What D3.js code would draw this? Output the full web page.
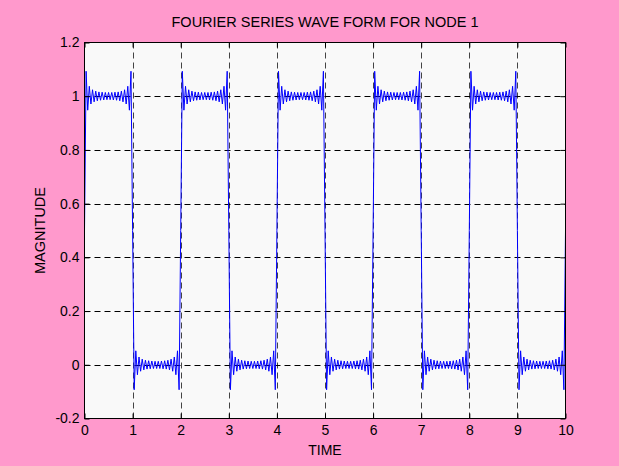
<!DOCTYPE html>
<html>
<head>
<meta charset="utf-8">
<script src="https://cdn.jsdelivr.net/npm/d3@7"></script>
<style>
  html, body { margin: 0; padding: 0; background: #FF99CC; }
  svg { display: block; }
  text { font-family: "Liberation Sans", Arial, sans-serif; fill: #000; }
</style>
</head>
<body>
<svg id="chart" width="619" height="466"></svg>
<script>
// ---- data ----
const titleText = "FOURIER SERIES WAVE FORM FOR NODE 1";
const xLabel = "TIME";
const yLabel = "MAGNITUDE";
const xTicks = [0, 1, 2, 3, 4, 5, 6, 7, 8, 9, 10];
const yTicks = [-0.2, 0, 0.2, 0.4, 0.6, 0.8, 1, 1.2];
const yTickLabels = ["-0.2", "0", "0.2", "0.4", "0.6", "0.8", "1", "1.2"];
const timeStep = 1 / 30;          // spacing of the ripple extrema
const edgeValue = 0.5;            // value at every switching instant
// ripple extrema inside a high half-period
const halfHigh = [1.093, 0.948, 1.037, 0.971, 1.024, 0.979, 1.019, 0.983, 1.016, 0.985,
                  1.015, 0.986, 1.014, 0.987, 1.014, 0.987, 1.014, 0.986, 1.015, 0.985,
                  1.016, 0.983, 1.019, 0.979, 1.024, 0.971, 1.037, 0.948, 1.093];
// ripple extrema inside a low half-period
const halfLow = [-0.093, 0.052, -0.037, 0.029, -0.024, 0.021, -0.019, 0.017, -0.016, 0.015,
                 -0.015, 0.014, -0.014, 0.013, -0.014, 0.013, -0.014, 0.014, -0.015, 0.015,
                 -0.016, 0.017, -0.019, 0.021, -0.024, 0.029, -0.037, 0.052, -0.093];
const halfPattern = ["high", "low", "high", "low", "high", "low", "high", "low", "high", "low"];

(function () {
// ---- build the series ----
const values = [];
halfPattern.forEach(p => {
  values.push(edgeValue);
  (p === "high" ? halfHigh : halfLow).forEach(v => values.push(v));
});
values.push(edgeValue);
const series = values.map((v, i) => ({ t: i * timeStep, v }));

// ---- layout ----
const L = 84.5, R = 565.5, T = 42.5, B = 418.5;
const svg = d3.select("#chart");
const x = d3.scaleLinear().domain([0, 10]).range([L, R]);
const y = d3.scaleLinear().domain([-0.2, 1.2]).range([B, T]);

svg.append("rect").attr("x", 0).attr("y", 0).attr("width", 619).attr("height", 466).attr("fill", "#FF99CC");
svg.append("rect").attr("x", L).attr("y", T).attr("width", R - L).attr("height", B - T).attr("fill", "#F9F9F9");

// grid
const grid = svg.append("g").attr("stroke", "#000").attr("stroke-width", 1).attr("stroke-dasharray", "6,4");
grid.selectAll("line.v").data(xTicks.filter(d => d > 0 && d < 10)).enter().append("line")
  .attr("x1", d => Math.round(x(d)) + 0.5).attr("x2", d => Math.round(x(d)) + 0.5)
  .attr("y1", T).attr("y2", B).attr("stroke", "#444");
grid.selectAll("line.h").data(yTicks.filter(d => d > -0.2 && d < 1.2)).enter().append("line")
  .attr("y1", d => Math.round(y(d)) + 0.5).attr("y2", d => Math.round(y(d)) + 0.5)
  .attr("x1", L).attr("x2", R);

// line
const clipId = "plotclip";
svg.append("clipPath").attr("id", clipId).append("rect")
  .attr("x", L).attr("y", T).attr("width", R - L).attr("height", B - T);
svg.append("path").datum(series)
  .attr("clip-path", `url(#${clipId})`)
  .attr("fill", "none").attr("stroke", "#0000FF").attr("stroke-width", 1)
  .attr("d", d3.line().x(d => x(d.t)).y(d => y(d.v)));

// axes (ticks inside, on all four sides)
const tickLen = 5;
const axBottom = d3.axisBottom(x).tickValues(xTicks).tickSize(-tickLen).tickPadding(7).tickFormat(d3.format("d"));
const axTop = d3.axisTop(x).tickValues(xTicks).tickSize(-tickLen).tickFormat("");
const axLeft = d3.axisLeft(y).tickValues(yTicks).tickSize(-tickLen).tickPadding(5)
  .tickFormat((d, i) => yTickLabels[i]);
const axRight = d3.axisRight(y).tickValues(yTicks).tickSize(-tickLen).tickFormat("");

function styleAxis(g) {
  g.selectAll(".domain").remove();
  g.selectAll(".tick line").attr("stroke", "#000");
  g.selectAll(".tick text").attr("font-size", 14).attr("font-family", "Liberation Sans, Arial, sans-serif").attr("fill", "#000");
}
svg.append("g").attr("transform", `translate(0,${B})`).call(axBottom).call(styleAxis);
svg.append("g").attr("transform", `translate(0,${T})`).call(axTop).call(styleAxis);
svg.append("g").attr("transform", `translate(${L},0)`).call(axLeft).call(styleAxis);
svg.append("g").attr("transform", `translate(${R},0)`).call(axRight).call(styleAxis);

// box
svg.append("rect").attr("x", L).attr("y", T).attr("width", R - L).attr("height", B - T)
  .attr("fill", "none").attr("stroke", "#000").attr("stroke-width", 1);

// texts
svg.append("text").attr("x", (L + R) / 2).attr("y", 27).attr("text-anchor", "middle")
  .attr("font-size", 14.5).text(titleText);
svg.append("text").attr("x", (L + R) / 2).attr("y", 455).attr("text-anchor", "middle")
  .attr("font-size", 14).text(xLabel);
svg.append("text").attr("transform", `translate(45,${(T + B) / 2}) rotate(-90)`).attr("text-anchor", "middle")
  .attr("font-size", 14.5).text(yLabel);
})();
</script>
</body>
</html>
